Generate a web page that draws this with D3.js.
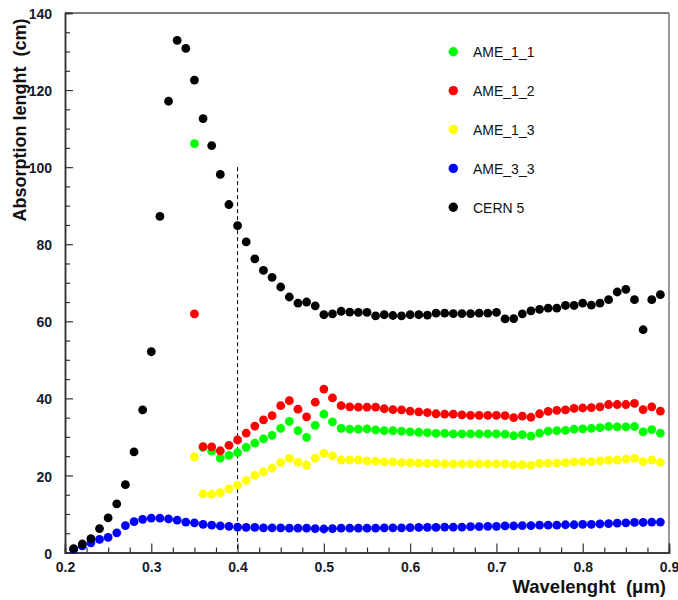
<!DOCTYPE html>
<html>
<head>
<meta charset="utf-8">
<script src="https://cdn.jsdelivr.net/npm/d3@7"></script>
<style>
  html, body { margin: 0; padding: 0; background: #fff; }
  svg { display: block; }
  .tick text { font-family: "Liberation Sans", Arial, sans-serif; font-weight: bold; font-size: 14px; fill: #1a1a2a; }
  .title { white-space: pre; }
</style>
</head>
<body>
<svg id="chart" width="678" height="600"></svg>
<script>
// ---------- data ----------
const waveFull = [0.21,0.22,0.23,0.24,0.25,0.26,0.27,0.28,0.29,0.30,0.31,0.32,0.33,0.34,0.35,0.36,0.37,0.38,0.39,0.40,0.41,0.42,0.43,0.44,0.45,0.46,0.47,0.48,0.49,0.50,0.51,0.52,0.53,0.54,0.55,0.56,0.57,0.58,0.59,0.60,0.61,0.62,0.63,0.64,0.65,0.66,0.67,0.68,0.69,0.70,0.71,0.72,0.73,0.74,0.75,0.76,0.77,0.78,0.79,0.80,0.81,0.82,0.83,0.84,0.85,0.86,0.87,0.88,0.89];
const waveAME = [0.35,0.36,0.37,0.38,0.39,0.40,0.41,0.42,0.43,0.44,0.45,0.46,0.47,0.48,0.49,0.50,0.51,0.52,0.53,0.54,0.55,0.56,0.57,0.58,0.59,0.60,0.61,0.62,0.63,0.64,0.65,0.66,0.67,0.68,0.69,0.70,0.71,0.72,0.73,0.74,0.75,0.76,0.77,0.78,0.79,0.80,0.81,0.82,0.83,0.84,0.85,0.86,0.87,0.88,0.89];

const ame11 = [106.1,27.3,26.3,24.5,25.2,25.9,27.3,28.4,29.5,30.4,32.2,34.0,31.6,29.9,33.0,35.9,33.9,32.2,32.0,32.0,32.1,31.8,31.6,31.6,31.5,31.3,31.2,31.1,30.9,30.9,30.8,30.8,30.8,30.8,30.8,30.8,30.7,30.3,30.6,30.2,31.0,31.5,31.6,31.7,32.0,32.1,32.2,32.4,32.7,32.6,32.6,32.7,31.3,31.9,31.0];
const ame12 = [61.9,27.5,27.4,26.4,27.8,29.2,31.0,32.8,34.4,35.5,38.1,39.4,37.2,35.2,39.0,42.4,40.1,38.1,37.8,37.7,37.7,37.7,37.3,37.1,37.0,36.7,36.5,36.3,36.0,35.9,35.9,35.7,35.6,35.6,35.6,35.6,35.5,35.0,35.4,35.1,36.0,36.6,36.9,37.0,37.4,37.5,37.6,37.8,38.4,38.4,38.4,38.7,37.1,37.8,36.7];
const ame13 = [24.8,15.2,15.1,15.5,16.5,17.5,18.7,20.0,20.9,21.9,23.3,24.4,23.4,22.7,24.5,25.8,25.1,24.0,24.0,24.0,23.8,23.7,23.5,23.5,23.3,23.3,23.2,23.1,23.1,23.0,23.0,23.0,23.0,23.0,23.0,23.0,23.0,22.7,22.8,22.6,23.1,23.2,23.2,23.3,23.5,23.6,23.6,23.8,23.9,24.0,24.2,24.4,23.6,24.0,23.4];
const ame33 = [0.8,1.7,2.5,3.4,3.9,5.1,7.0,8.0,8.6,8.9,8.9,8.7,8.4,7.9,7.7,7.3,7.1,6.9,6.8,6.6,6.5,6.5,6.4,6.4,6.4,6.3,6.3,6.3,6.2,6.1,6.2,6.3,6.3,6.3,6.3,6.3,6.4,6.4,6.4,6.45,6.5,6.5,6.5,6.6,6.6,6.6,6.7,6.7,6.8,6.8,6.9,6.9,7.0,7.0,7.1,7.1,7.1,7.2,7.2,7.3,7.3,7.4,7.5,7.6,7.7,7.8,7.8,7.9,7.9];
const cern5 = [1.0,2.2,3.6,6.2,9.0,12.6,17.6,26.1,37.0,52.1,87.2,117.1,132.9,130.8,122.6,112.6,105.6,98.1,90.3,84.8,80.6,76.2,73.2,71.4,68.9,66.3,64.7,65.0,64.0,61.7,61.9,62.6,62.4,62.3,62.3,61.4,61.7,61.5,61.4,61.7,61.7,61.6,62.1,62.1,62.0,62.0,62.0,62.1,62.1,62.3,60.6,60.7,61.9,62.7,63.1,63.4,63.4,64.1,64.1,64.7,64.2,64.7,65.6,67.6,68.3,65.6,57.8,65.6,66.9];

const seriesNames = ["AME_1_1","AME_1_2","AME_1_3","AME_3_3","CERN 5"];
const seriesColors = ["#00ff00","#ff0000","#ffff00","#0000ff","#000000"];
const seriesX = [waveAME, waveAME, waveAME, waveFull, waveFull];
const seriesY = [ame11, ame12, ame13, ame33, cern5];

const xTicksMajor = [0.2,0.3,0.4,0.5,0.6,0.7,0.8,0.9];
const xTickLabels = ["0.2","0.3","0.4","0.5","0.6","0.7","0.8","0.9"];
const yTicksMajor = [0,20,40,60,80,100,120,140];
const yTickLabels = ["0","20","40","60","80","100","120","140"];
const cutWave = 0.4;
const cutTop = 100;

// ---------- layout ----------
const svg = d3.select("#chart");
const L = 65, R = 669, T = 13, B = 552.5;
const x = d3.scaleLinear().domain([0.2, 0.9]).range([L, R]);
const y = d3.scaleLinear().domain([0, 140]).range([B, T]);

// frame (top/right)
svg.append("line").attr("x1", L).attr("x2", R).attr("y1", T).attr("y2", T).attr("stroke", "#555").attr("stroke-width", 1.5);
svg.append("line").attr("x1", R).attr("x2", R).attr("y1", T).attr("y2", B).attr("stroke", "#777").attr("stroke-width", 1.5);

// minor ticks
const xMinor = d3.range(0, 29).map(i => 0.2 + i * 0.025).filter(v => !xTicksMajor.some(m => Math.abs(m - v) < 1e-6));
const yMinor = d3.range(0, 29).map(i => i * 5).filter(v => v % 20 !== 0);

const gxMinor = svg.append("g").attr("transform", `translate(0,${B})`)
  .call(d3.axisBottom(x).tickValues(xMinor).tickSize(-5).tickFormat(""));
const gyMinor = svg.append("g").attr("transform", `translate(${L},0)`)
  .call(d3.axisLeft(y).tickValues(yMinor).tickSize(-5).tickFormat(""));

const gx = svg.append("g").attr("transform", `translate(0,${B})`)
  .call(d3.axisBottom(x).tickValues(xTicksMajor).tickSize(-9).tickPadding(10)
    .tickFormat((d, i) => xTickLabels[i]));
const gy = svg.append("g").attr("transform", `translate(${L},0)`)
  .call(d3.axisLeft(y).tickValues(yTicksMajor).tickSize(-8).tickPadding(13)
    .tickFormat((d, i) => yTickLabels[i]));

[gx, gy, gxMinor, gyMinor].forEach(g => {
  g.selectAll(".domain").attr("stroke", "#333").attr("stroke-width", 1.5);
  g.selectAll(".tick line").attr("stroke", "#333").attr("stroke-width", 1.2);
});
gy.selectAll(".tick text").attr("dy", "0.4em");

// dashed cut line
svg.append("line")
  .attr("x1", x(cutWave)).attr("x2", x(cutWave))
  .attr("y1", y(cutTop)).attr("y2", y(0))
  .attr("stroke", "#000").attr("stroke-width", 1).attr("stroke-dasharray", "4,3");

// points
seriesNames.forEach((name, s) => {
  const pts = seriesX[s].map((w, i) => [w, seriesY[s][i]]);
  svg.append("g").selectAll("circle").data(pts).join("circle")
    .attr("cx", d => x(d[0])).attr("cy", d => y(d[1]))
    .attr("r", 4.4).attr("fill", seriesColors[s]);
});

// legend
const leg = svg.append("g");
seriesNames.forEach((name, i) => {
  const cy = 51.7 + i * 38.9;
  leg.append("circle").attr("cx", 453.3).attr("cy", cy).attr("r", 4.7).attr("fill", seriesColors[i]);
  leg.append("text").attr("x", 473).attr("y", cy + 5.5)
    .attr("font-family", "Liberation Sans, Arial, sans-serif").attr("font-size", 14)
    .attr("fill", "#111").text(name);
});

// axis titles
svg.append("text").attr("class", "title")
  .attr("transform", `translate(25.5,120) rotate(-90)`)
  .attr("text-anchor", "middle")
  .attr("font-family", "Liberation Sans, Arial, sans-serif").attr("font-weight", "bold")
  .attr("font-size", 18).attr("fill", "#111")
  .text("Absorption lenght  (cm)");
svg.append("text").attr("class", "title")
  .attr("x", 666).attr("y", 593).attr("text-anchor", "end")
  .attr("font-family", "Liberation Sans, Arial, sans-serif").attr("font-weight", "bold")
  .attr("font-size", 18.5).attr("fill", "#111")
  .text("Wavelenght  (\u03bcm)");
</script>
</body>
</html>
